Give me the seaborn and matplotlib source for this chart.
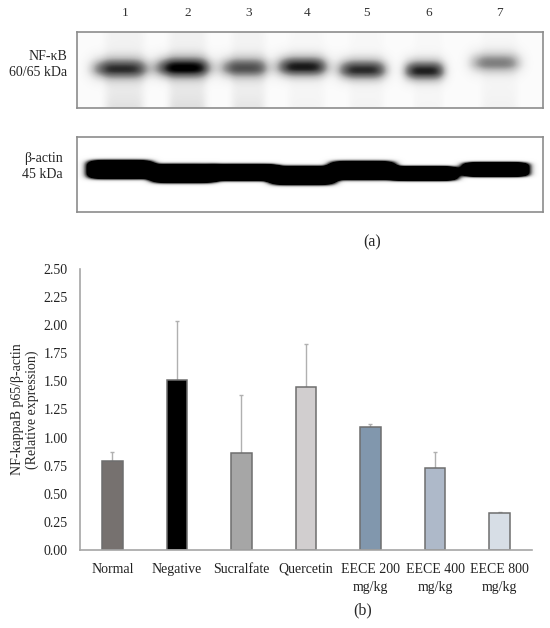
import numpy as np
import pandas as pd
import matplotlib
matplotlib.use("Agg")
import matplotlib.pyplot as plt
import seaborn as sns

# data (b): relative expression and upper error
kelompok = ["Normal", "Negative", "Sucralfate", "Quercetin",
            "EECE 200\nmg/kg", "EECE 400\nmg/kg", "EECE 800\nmg/kg"]
ekspresi = [0.79, 1.51, 0.86, 1.45, 1.09, 0.73, 0.33]
galat = [0.08, 0.53, 0.52, 0.38, 0.03, 0.14, 0.005]
warna = ["#77706e", "#000000", "#a6a6a6", "#d1cecf", "#7a97b4", "#a9b8cd", "#d5dee8"]
yticks = [0.00, 0.25, 0.50, 0.75, 1.00, 1.25, 1.50, 1.75, 2.00, 2.25, 2.50]

# data (a): blot band densities per lane
lajur = [1, 2, 3, 4, 5, 6, 7]
nfkb_intensitas = [0.80, 0.98, 0.70, 0.92, 0.86, 0.90, 0.55]
nfkb_smear = [0.13, 0.14, 0.11, 0.05, 0.05, 0.04, 0.06]
aktin_intensitas = [1.0, 1.0, 1.0, 1.0, 1.0, 1.0, 1.0]

# layout of the blot image (pixels inside each panel)
lajur_x = [43, 106, 167, 225, 285, 347, 418]
lajur_lebar = [29, 28, 25, 26, 25, 21, 26]
nfkb_y = [35, 34, 34, 33, 36, 37, 29]
aktin_y = [33, 37, 36, 39, 34, 37, 33]
aktin_tebal = [9, 9, 8, 9, 9, 7, 7]
W, H = 466, 76

df = pd.DataFrame({"Kelompok": kelompok, "Ekspresi": ekspresi, "Galat": galat})

sns.set_style("white")
plt.rcParams["font.family"] = ["Liberation Serif", "DejaVu Serif"]

fig = plt.figure(figsize=(5.5, 6.28), dpi=100)

yy, xx = np.mgrid[0:H, 0:W]

# NF-kB panel
img_nf = np.full((H, W), 0.03)
for x0, w, a, s, y0 in zip(lajur_x, lajur_lebar, nfkb_intensitas, nfkb_smear, nfkb_y):
    strip = np.exp(-((xx - x0 - 4) / (w * 0.7)) ** 6)
    img_nf += s * strip * (0.6 + 0.8 * (yy / H) ** 3)
    core = np.exp(-((yy - y0) / 11) ** 2) * (0.7 + 0.3 * np.clip((yy - y0 + 10) / 14, 0, 1))
    img_nf += a * np.exp(-((xx - x0) / w) ** 4) * core
img_nf = np.clip(img_nf, 0, 1)

ax_nf = fig.add_axes([0.1395, 0.8285, 0.847, 0.121])
ax_nf.imshow(img_nf, cmap="Greys", vmin=0, vmax=1, aspect="auto",
             extent=(0, W, H, 0), interpolation="bilinear")
ax_nf.set_xticks([])
ax_nf.set_yticks([])
for sp in ax_nf.spines.values():
    sp.set_color("#8c8c8c")
    sp.set_linewidth(1.2)
for x0, n in zip(lajur_x, lajur):
    ax_nf.text(x0 + 5, -19, str(n), ha="center", va="center", fontsize=9.5, color="#333333")

# beta-actin panel
img_ak = np.zeros((H, W))
for x0, a, y0, t in zip(lajur_x, aktin_intensitas, aktin_y, aktin_tebal):
    img_ak += a * 3 * np.exp(-((xx - x0) / 33) ** 6) * np.exp(-((yy - y0) / t) ** 4)
img_ak = np.clip(img_ak, 0, 1)

ax_ak = fig.add_axes([0.1395, 0.662, 0.847, 0.1204])
ax_ak.imshow(img_ak, cmap="Greys", vmin=0, vmax=1, aspect="auto",
             extent=(0, W, H, 0), interpolation="bilinear")
ax_ak.set_xticks([])
ax_ak.set_yticks([])
for sp in ax_ak.spines.values():
    sp.set_color("#8c8c8c")
    sp.set_linewidth(1.2)

fig.text(67 / 550, 1 - 57 / 628, "NF-κB", ha="right", va="center", fontsize=10)
fig.text(67 / 550, 1 - 73 / 628, "60/65 kDa", ha="right", va="center", fontsize=10)
fig.text(63 / 550, 1 - 158 / 628, "β-actin", ha="right", va="center", fontsize=10)
fig.text(63 / 550, 1 - 175 / 628, "45 kDa", ha="right", va="center", fontsize=10)
fig.text(372 / 550, 1 - 242 / 628, "(a)", ha="center", va="center", fontsize=11.5)

# bar chart (b)
ax = fig.add_axes([0.1455, 0.1242, 0.8215, 0.4475])
ax.errorbar(np.arange(len(kelompok)), df["Ekspresi"],
            yerr=[np.zeros(len(galat)), df["Galat"]], fmt="none",
            ecolor="#b0b0b0", elinewidth=1, capsize=1.5, capthick=1, zorder=1)
sns.barplot(data=df, x="Kelompok", y="Ekspresi", hue="Kelompok", palette=warna,
            legend=False, width=0.32, edgecolor="#6e6e6e", linewidth=1.1,
            errorbar=None, ax=ax, zorder=2)
ax.set_xlim(-0.5, len(kelompok) - 0.5)
ax.set_ylim(0, 2.5)
ax.set_yticks(yticks)
ax.set_yticklabels([f"{v:.2f}" for v in yticks])
ax.set_xticks(range(len(kelompok)))
ax.set_xticklabels(kelompok, linespacing=1.55)
ax.set_xlabel("")
ax.set_ylabel("NF-kappaB p65/β-actin\n(Relative expression)", fontsize=10, labelpad=3,
              linespacing=1.15)
ax.tick_params(axis="both", length=0, labelsize=10, pad=9, colors="#222222")
sns.despine(ax=ax)
ax.spines["left"].set_color("#a6a6a6")
ax.spines["bottom"].set_color("#a6a6a6")
ax.spines["left"].set_linewidth(1.2)
ax.spines["bottom"].set_linewidth(1.2)

fig.text(363 / 550, 1 - 610 / 628, "(b)", ha="center", va="center", fontsize=11.5)

plt.savefig("out.png", dpi=100)
